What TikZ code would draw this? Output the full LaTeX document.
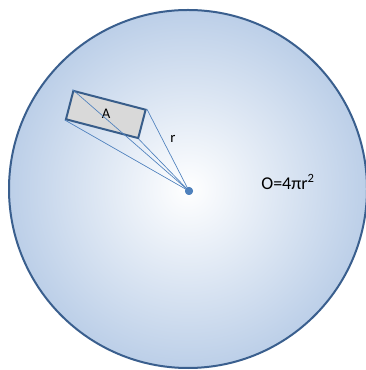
\documentclass[tikz,border=0pt]{standalone}
\usepackage{fontspec}
\setmainfont{Carlito}
\usetikzlibrary{positioning}
\definecolor{sphereBd}{HTML}{3A5F8E}
\definecolor{sphereFl}{HTML}{BCCFE8}
\definecolor{patchBd}{HTML}{385D8A}
\definecolor{patchFl}{HTML}{D9D9D9}
\definecolor{rayClr}{HTML}{4F81BD}
\begin{document}
\begin{tikzpicture}[
  x=0.75pt, y=0.75pt,
  font=\fontsize{11}{13}\selectfont,
  patch/.style={draw=patchBd, fill=patchFl, line width=1.5pt,
                minimum width=56pt, minimum height=22pt, inner sep=0pt},
  ray/.style={draw=rayClr, line width=0.5pt},
  dot/.style={circle, fill=rayClr, minimum size=6pt, inner sep=0pt},
]
\useasboundingbox (0,0) rectangle (365,370);

% ---------- sphere ----------
\shade[inner color=white, outer color=sphereFl] (188,181) circle (179);
\draw[sphereBd, line width=1.5pt] (188,181) circle (179);

% ---------- centre and surface patch ----------
\node[dot] (ctr) at (189,179) {};
\node[patch, rotate=-14.6] (box) at (105.8,255.5) {};
\node (albl) at (106,256) {A};

% ---------- rays to the patch corners ----------
\draw[ray] (ctr.center) -- (box.north west);
\draw[ray] (ctr.center) -- (box.north east);
\draw[ray] (ctr.center) -- (box.south east);
\draw[ray] (ctr.center) -- (box.south west);
\node[dot] at (ctr) {};

% ---------- labels ----------
\node (rlbl) at (173,231) {r};
\node[font=\fontsize{13.5}{16}\selectfont] (area) at (288,188) {O=4πr\textsuperscript{2}};

\end{tikzpicture}
\end{document}
